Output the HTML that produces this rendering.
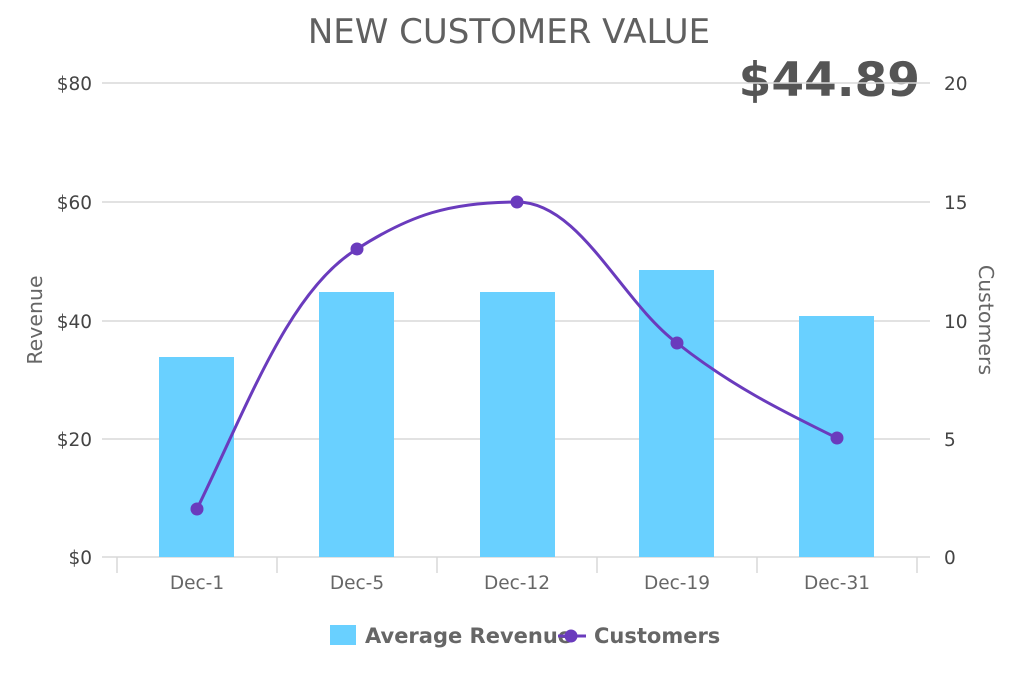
<!DOCTYPE html>
<html><head><meta charset="utf-8"><style>
html,body{margin:0;padding:0;background:#fff;}
svg{display:block;font-family:"DejaVu Sans","Liberation Sans",sans-serif;}
</style></head><body>
<svg width="1024" height="683" viewBox="0 0 1024 683" xmlns="http://www.w3.org/2000/svg">
<text x="509" y="43" text-anchor="middle" font-size="34" fill="#606060">NEW CUSTOMER VALUE</text>
<text x="920" y="96" text-anchor="end" font-size="47" font-weight="bold" fill="#555">$44.89</text>
<g stroke="#d8d8d8" stroke-width="1.5">
<line x1="102" x2="930" y1="83" y2="83"/>
<line x1="102" x2="930" y1="202" y2="202"/>
<line x1="102" x2="930" y1="321" y2="321"/>
<line x1="102" x2="930" y1="439" y2="439"/>
<line x1="102" x2="930" y1="557" y2="557"/>
<line x1="117" x2="117" y1="557" y2="573"/>
<line x1="277" x2="277" y1="557" y2="573"/>
<line x1="437" x2="437" y1="557" y2="573"/>
<line x1="597" x2="597" y1="557" y2="573"/>
<line x1="757" x2="757" y1="557" y2="573"/>
<line x1="917" x2="917" y1="557" y2="573"/>
</g>
<g font-size="18.5" fill="#444" text-anchor="end">
<text x="92" y="90">$80</text><text x="92" y="209">$60</text><text x="92" y="328">$40</text><text x="92" y="446">$20</text><text x="92" y="564">$0</text>
</g>
<g font-size="18.5" fill="#444">
<text x="944" y="90">20</text><text x="944" y="209">15</text><text x="944" y="328">10</text><text x="944" y="446">5</text><text x="944" y="564">0</text>
</g>
<text transform="translate(42,320) rotate(-90)" text-anchor="middle" font-size="20.5" fill="#666">Revenue</text>
<text transform="translate(979,320) rotate(90)" text-anchor="middle" font-size="20.5" fill="#666">Customers</text>
<g fill="#69d0ff">
<rect x="159" y="357" width="75" height="200"/>
<rect x="319" y="292" width="75" height="265"/>
<rect x="480" y="292" width="75" height="265"/>
<rect x="639" y="270" width="75" height="287"/>
<rect x="799" y="316" width="75" height="241"/>
</g>
<g font-size="18.5" fill="#666" text-anchor="middle">
<text x="197" y="589">Dec-1</text><text x="357" y="589">Dec-5</text><text x="517" y="589">Dec-12</text><text x="677" y="589">Dec-19</text><text x="837" y="589">Dec-31</text>
</g>
<path d="M197,509 C250,400 290,290 357,249 C410,215 450,202 517,202 C580,202 620,300 677,343 C730,385 780,410 837,438" fill="none" stroke="#6a3bbd" stroke-width="3"/>
<g fill="#6a3bbd">
<circle cx="197" cy="509" r="6.5"/><circle cx="357" cy="249" r="6.5"/><circle cx="517" cy="202" r="6.5"/><circle cx="677" cy="343" r="6.5"/><circle cx="837" cy="438" r="6.5"/>
</g>
<rect x="330" y="625" width="26" height="20" fill="#69d0ff"/>
<text x="365" y="643" font-size="21" font-weight="bold" fill="#666">Average Revenue</text>
<line x1="558" x2="586" y1="636" y2="636" stroke="#6a3bbd" stroke-width="3"/>
<circle cx="571" cy="636" r="6.5" fill="#6a3bbd"/>
<text x="594" y="643" font-size="21" font-weight="bold" fill="#666">Customers</text>
</svg>
</body></html>
